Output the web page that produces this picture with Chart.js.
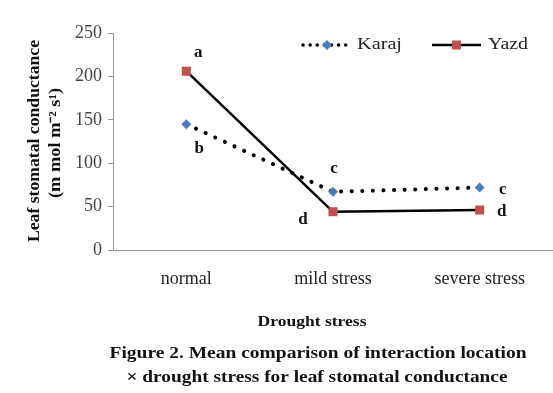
<!DOCTYPE html>
<html>
<head>
<meta charset="utf-8">
<script src="https://cdn.jsdelivr.net/npm/chart.js@4"></script>
<style>
  html, body { margin: 0; padding: 0; background: #fff; overflow: hidden; }
</style>
</head>
<body>
<canvas id="chart" width="553" height="393"></canvas>
<script>
// data
var stress = ["normal", "mild stress", "severe stress"];
var karaj = [145, 67, 72];
var yazd = [206, 44, 46];
var karajLetters = ["b", "c", "c"];
var yazdLetters = ["a", "d", "d"];
var yTicks = [0, 50, 100, 150, 200, 250];

var serif = "'Liberation Serif', 'Times New Roman', serif";

// draws text squeezed/stretched to a given width (the scan is stretched sideways)
function stretchText(ctx, text, x, y, font, w, rot) {
  ctx.save();
  ctx.font = font;
  var m = ctx.measureText(text).width;
  ctx.translate(x, y);
  if (rot) ctx.rotate(rot);
  ctx.scale(w / m, 1);
  ctx.textAlign = "center";
  ctx.textBaseline = "middle";
  ctx.fillText(text, 0, 0);
  ctx.restore();
}

var extras = {
  id: "extras",
  afterDatasetsDraw: function (chart) {
    var ctx = chart.ctx;
    ctx.fillStyle = "#111";
    // significance letters next to the points
    var offs = {
      0: [[13, 24], [1, -23], [23, 2]],
      1: [[12, -19], [-30, 8], [22, 2]]
    };
    [karajLetters, yazdLetters].forEach(function (letters, di) {
      var meta = chart.getDatasetMeta(di);
      meta.data.forEach(function (pt, i) {
        ctx.save();
        ctx.font = "bold 17px " + serif;
        ctx.textAlign = "center";
        ctx.textBaseline = "middle";
        ctx.fillText(letters[i], pt.x + offs[di][i][0], pt.y + offs[di][i][1]);
        ctx.restore();
      });
    });

    // legend
    var ly = 45;
    ctx.save();
    ctx.strokeStyle = "#000";
    ctx.lineWidth = 3.5;
    ctx.lineCap = "round";
    ctx.setLineDash([0.1, 7]);
    ctx.beginPath(); ctx.moveTo(303, ly); ctx.lineTo(347, ly); ctx.stroke();
    ctx.setLineDash([]);
    ctx.lineCap = "butt";
    ctx.lineWidth = 2.5;
    ctx.beginPath(); ctx.moveTo(432, ly); ctx.lineTo(481, ly); ctx.stroke();
    ctx.fillStyle = "#4A7EBB";
    ctx.beginPath();
    ctx.moveTo(327, ly - 5); ctx.lineTo(332, ly); ctx.lineTo(327, ly + 5); ctx.lineTo(322, ly);
    ctx.closePath(); ctx.fill();
    ctx.fillStyle = "#C0504D";
    ctx.fillRect(452, ly - 4.5, 9, 9);
    ctx.fillStyle = "#222";
    stretchText(ctx, "Karaj", 379.5, ly, "17px " + serif, 45);
    stretchText(ctx, "Yazd", 508, ly, "17px " + serif, 40);
    ctx.restore();

    // axis titles and caption
    ctx.save();
    ctx.fillStyle = "#111";
    stretchText(ctx, "Leaf stomatal conductance", 35, 141, "bold 16px " + serif, 202, -Math.PI / 2);
    stretchText(ctx, "(m mol m\u207B\u00B2 s\u00B9)", 56, 143, "bold 16px " + serif, 110, -Math.PI / 2);
    stretchText(ctx, "Drought stress", 312, 322, "bold 15px " + serif, 109);
    stretchText(ctx, "Figure 2. Mean comparison of interaction location", 318, 354, "bold 17px " + serif, 417);
    stretchText(ctx, "\u00D7 drought stress for leaf stomatal conductance", 317, 378, "bold 17px " + serif, 381);
    ctx.restore();
  }
};

var chart = new Chart("chart", {
  type: "line",
  data: {
    labels: stress,
    datasets: [
      {
        label: "Karaj",
        data: karaj,
        borderColor: "#000",
        borderWidth: 4,
        borderDash: [0.1, 10.5],
        borderCapStyle: "round",
        pointStyle: "rectRot",
        pointRadius: 5,
        pointBackgroundColor: "#4A7EBB",
        pointBorderColor: "#4A7EBB",
        pointBorderWidth: 0,
        tension: 0
      },
      {
        label: "Yazd",
        data: yazd,
        borderColor: "#000",
        borderWidth: 2.5,
        pointStyle: "rect",
        pointRadius: 6.4,
        pointBackgroundColor: "#C0504D",
        pointBorderColor: "#C0504D",
        pointBorderWidth: 0,
        tension: 0
      }
    ]
  },
  options: {
    responsive: false,
    animation: false,
    layout: { autoPadding: false, padding: { top: 33, left: 0, right: 0, bottom: 0 } },
    plugins: {
      legend: { display: false },
      tooltip: { enabled: false }
    },
    scales: {
      x: {
        offset: true,
        grid: { display: false, drawTicks: false },
        border: { color: "#999", width: 1 },
        ticks: {
          padding: 18,
          color: "#222",
          font: { family: serif, size: 18 }
        },
        afterFit: function (s) {
          s.height = 143;
          s.paddingLeft = 0;
          s.paddingRight = 0;
        }
      },
      y: {
        min: 0,
        max: 250,
        afterBuildTicks: function (s) {
          s.ticks = yTicks.map(function (v) { return { value: v }; });
        },
        grid: { drawOnChartArea: false, drawTicks: true, tickLength: 5, color: "#999" },
        border: { color: "#999", width: 1 },
        ticks: {
          padding: 6,
          color: "#444",
          font: { family: serif, size: 18 }
        },
        afterFit: function (s) { s.width = 113; }
      }
    }
  },
  plugins: [extras]
});
</script>
</body>
</html>
